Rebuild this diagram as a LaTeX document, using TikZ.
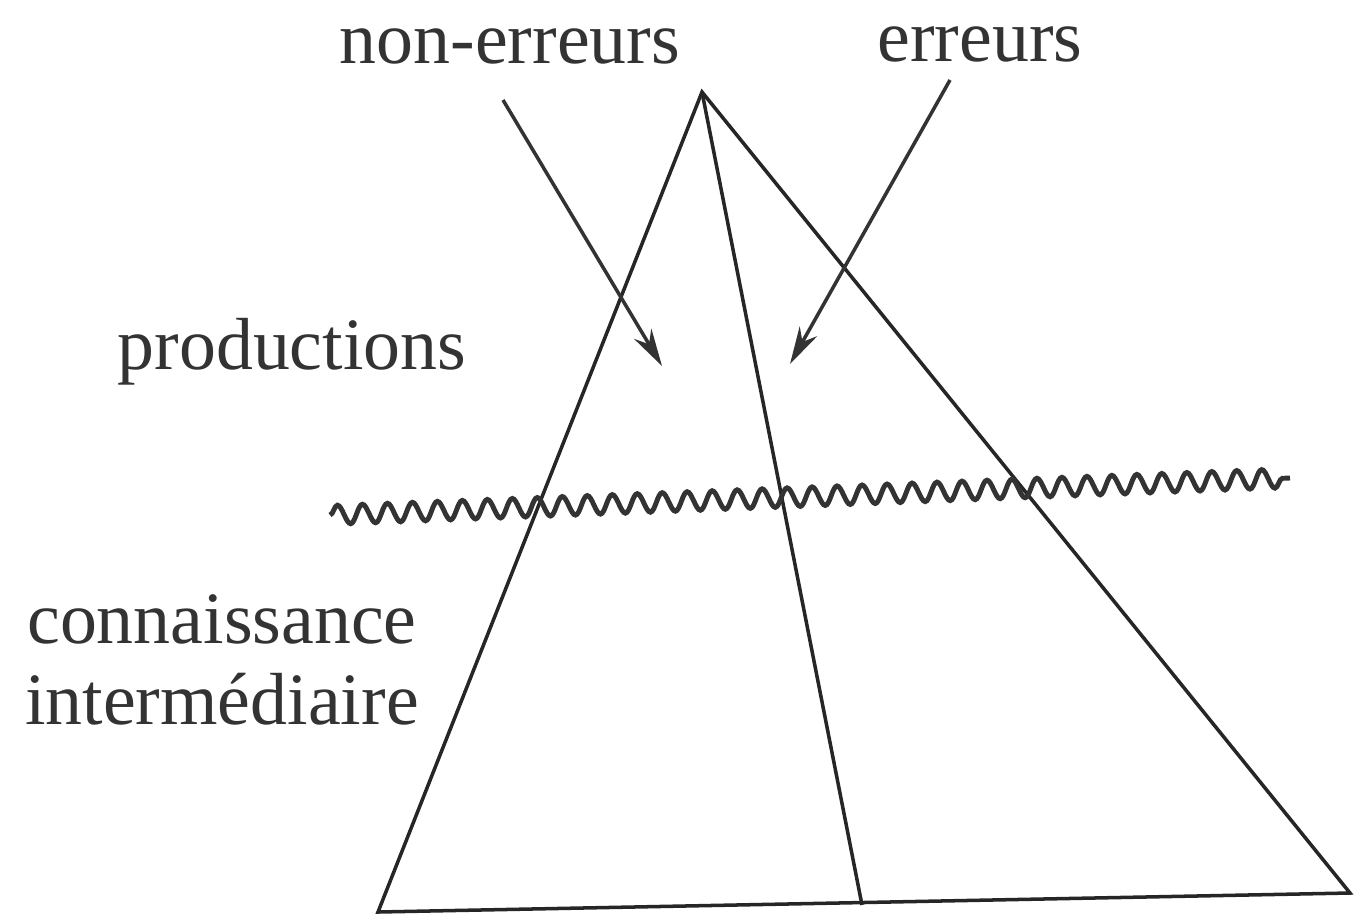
\documentclass[tikz,border=0pt]{standalone}
\usepackage{fontspec}
\setmainfont{Liberation Serif}
\usepackage{tikz}
\usetikzlibrary{arrows.meta, decorations.pathmorphing}

\begin{document}
\begin{tikzpicture}[
  x=0.2mm, y=-0.2mm,
  label/.style={inner sep=0pt, text=black!80, font=\fontsize{42}{46}\selectfont, align=center},
  edge/.style={line width=2pt, black!85},
  arrow/.style={line width=2pt, black!80, -{Stealth[length=7.5mm, width=4mm]}},
  wave/.style={line width=2.8pt, black!80, decorate, decoration={snake, segment length=5mm, amplitude=1.9mm}}
]
  \useasboundingbox (0,0) rectangle (1354,923);

  % labels
  \node[label] (nonerr) at (510,46) {non-erreurs};
  \node[label] (err) at (980,44) {erreurs};
  \node[label] (prod) at (292,352) {productions};
  \node[label] (conn) at (222,660) {connaissance\\intermédiaire};

  % pyramid
  \coordinate (top) at (702,92);
  \coordinate (bl) at (378,912);
  \coordinate (bm) at (862,905);
  \coordinate (br) at (1350,893);
  \draw[edge] (bl) -- (top) -- (br) -- cycle;
  \draw[edge] (top) -- (bm);

  % surface
  \coordinate (w1) at (330,515);
  \coordinate (w2) at (1290,478);
  \draw[wave] (w1) -- (w2);

  % arrows
  \coordinate (a1) at (503,100);
  \coordinate (a2) at (662,366);
  \coordinate (b1) at (950,80);
  \coordinate (b2) at (790,364);
  \draw[arrow] (a1) -- (a2);
  \draw[arrow] (b1) -- (b2);
\end{tikzpicture}
\end{document}
